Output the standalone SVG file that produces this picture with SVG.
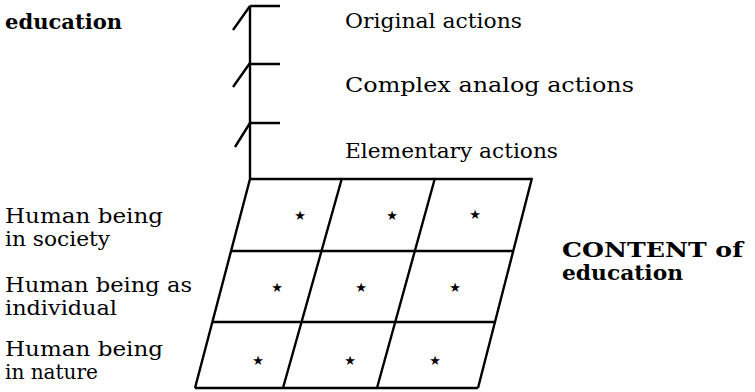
<svg xmlns="http://www.w3.org/2000/svg" width="755" height="392" viewBox="0 0 755 392">
<style>
.ln{stroke:#000;stroke-width:2.4;fill:none;stroke-linecap:butt}
</style>
<rect width="755" height="392" fill="#fff"/>
<g font-family="DejaVu Serif, serif" font-size="20" fill="#000">
<g id="axis-label"><text font-weight="bold" x="5" y="29" textLength="117" lengthAdjust="spacingAndGlyphs">education</text></g>
<g id="level-labels">
<text x="345" y="28" textLength="177" lengthAdjust="spacingAndGlyphs">Original actions</text>
<text x="345" y="92" textLength="289" lengthAdjust="spacingAndGlyphs">Complex analog actions</text>
<text x="345" y="158" textLength="213" lengthAdjust="spacingAndGlyphs">Elementary actions</text>
</g>
<g id="row-labels">
<text x="5" y="223" textLength="158" lengthAdjust="spacingAndGlyphs">Human being</text>
<text x="5" y="246" textLength="105" lengthAdjust="spacingAndGlyphs">in society</text>
<text x="5" y="292" textLength="187" lengthAdjust="spacingAndGlyphs">Human being as</text>
<text x="5" y="315" textLength="112" lengthAdjust="spacingAndGlyphs">individual</text>
<text x="5" y="356" textLength="158" lengthAdjust="spacingAndGlyphs">Human being</text>
<text x="5" y="379" textLength="93" lengthAdjust="spacingAndGlyphs">in nature</text>
</g>
<g id="content-label" font-weight="bold">
<text x="562" y="257" textLength="181" lengthAdjust="spacingAndGlyphs">CONTENT of</text>
<text x="562" y="280" textLength="121" lengthAdjust="spacingAndGlyphs">education</text>
</g>
</g>
<g id="axis">
<path class="ln" d="M250,6 V179 M250,6 H280 M250,64 H280 M250,123 H280"/>
<path class="ln" d="M233,30 L250,6 M233,87 L250,63 M235,147 L250,123"/>
</g>
<g id="grid">
<path class="ln" d="M250,179 H532 M231,251 H514 M213,322 H496 M195,388 H478"/>
<path class="ln" d="M250,179 L195,388 M342,178 L283,388 M435,178 L377,388 M532,178 L478,388"/>
</g>
<g id="cells" font-family="DejaVu Sans, sans-serif" font-size="13" text-anchor="middle" fill="#000">
<text x="300" y="220">★</text>
<text x="392" y="220">★</text>
<text x="475" y="219">★</text>
<text x="277" y="292">★</text>
<text x="361" y="292">★</text>
<text x="455" y="292">★</text>
<text x="258" y="365">★</text>
<text x="350" y="365">★</text>
<text x="435" y="365">★</text>
</g>
</svg>
